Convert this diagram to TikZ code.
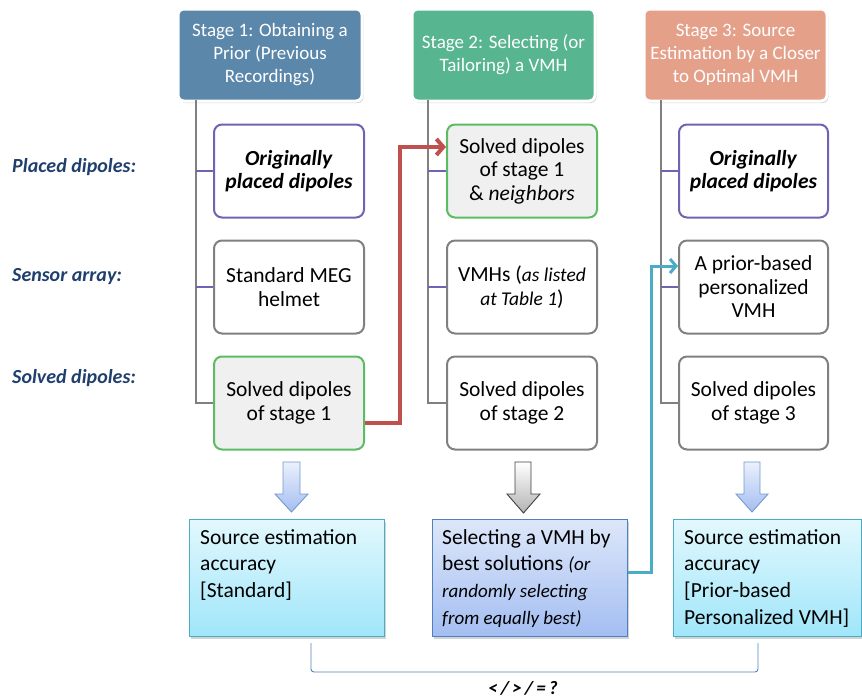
\documentclass[tikz,border=0pt]{standalone}
\usepackage{fontspec}
\setmainfont{Carlito}
\usetikzlibrary{shadows,arrows.meta}
\definecolor{hOne}{HTML}{5B87AB}
\definecolor{hTwo}{HTML}{57B590}
\definecolor{hThree}{HTML}{E5A08A}
\definecolor{purp}{HTML}{7163B4}
\definecolor{grn}{HTML}{5DBB63}
\definecolor{gryb}{HTML}{808080}
\definecolor{lbl}{HTML}{1F3F6E}
\definecolor{redc}{HTML}{C0504D}
\definecolor{teal}{HTML}{4BACC6}
\definecolor{blueb}{HTML}{4F81BD}
\definecolor{cyTop}{HTML}{E2F8FD}
\definecolor{cyBot}{HTML}{A0E6FA}
\definecolor{blTop}{HTML}{DDE7F9}
\definecolor{blBot}{HTML}{A4BEF2}
\tikzset{
  header/.style={draw=white, line width=3pt, rounded corners=6pt, text=white,
    minimum width=184pt, minimum height=92pt, align=center, inner sep=2pt,
    font=\fontsize{19}{23}\selectfont,
    drop shadow={opacity=0.35, shadow xshift=1.5pt, shadow yshift=-2pt}},
  child/.style={draw, line width=2pt, rounded corners=8pt, fill=white,
    minimum width=150pt, minimum height=93pt, align=center, inner sep=1pt,
    font=\fontsize{21.5}{23.5}\selectfont},
  pbox/.style={child, draw=purp},
  gbox/.style={child, draw=gryb},
  sbox/.style={child, draw=grn, fill=black!6},
  trunk/.style={draw=gryb, line width=2pt},
  stub/.style={draw=purp, line width=2pt},
  sidelbl/.style={anchor=west, text=lbl, inner sep=0pt,
    font=\fontsize{20}{22}\selectfont\bfseries\itshape},
  cybox/.style={draw=teal, line width=1pt, top color=cyTop, bottom color=cyBot,
    minimum width=195pt, minimum height=117pt,
    drop shadow={opacity=0.35, shadow xshift=2pt, shadow yshift=-2.5pt}},
  blbox/.style={cybox, draw=blueb, top color=blTop, bottom color=blBot},
  btext/.style={anchor=north west, align=left, inner sep=0pt,
    font=\fontsize{21.5}{26.7}\selectfont},
  bigarrow/.style={line width=0.9pt, draw=blueb!80, top color=blTop!60, bottom color=blBot},
  grayarrow/.style={line width=0.9pt, draw=black!75, top color=white, bottom color=black!30},
}
\begin{document}
\begin{tikzpicture}[x=1pt, y=-1pt]
\useasboundingbox (0,0) rectangle (862,699);

% headers
\node[header, fill=hOne] (h1) at (270,55) {Stage 1: Obtaining a\\Prior (Previous\\Recordings)};
\node[header, fill=hTwo, minimum width=183pt] (h2) at (503.5,55) {Stage 2: Selecting (or\\Tailoring) a VMH};
\node[header, fill=hThree, minimum width=183pt] (h3) at (735.5,55) {Stage 3: Source\\Estimation by a Closer\\to Optimal VMH};

% trunk coordinates
\coordinate (t1) at (196,100);
\coordinate (t2) at (428,100);
\coordinate (t3) at (661,100);

% child boxes
\node[pbox] (s11) at (289,171) {\textbf{\textit{Originally}}\\\textbf{\textit{placed dipoles}}};
\node[gbox] (s12) at (289,287) {Standard MEG\\helmet};
\node[sbox] (s13) at (289,403) {Solved dipoles\\of stage 1};

\node[sbox] (s21) at (522,171) {Solved dipoles\\of stage 1\\\& \textit{neighbors}};
\node[gbox] (s22) at (522,287) {VMHs ({\fontsize{19.5}{22}\selectfont\textit{as listed}}\\{\fontsize{19.5}{22}\selectfont\textit{at Table 1}})};
\node[gbox] (s23) at (522,403) {Solved dipoles\\of stage 2};

\node[pbox, minimum width=149pt] (s31) at (753.5,171) {\textbf{\textit{Originally}}\\\textbf{\textit{placed dipoles}}};
\node[gbox, minimum width=149pt] (s32) at (753.5,287) {A prior-based\\personalized\\VMH};
\node[gbox, minimum width=149pt] (s33) at (753.5,403) {Solved dipoles\\of stage 3};

% trunks
\draw[trunk] (t1) |- (s13.west);
\draw[trunk] (t2) |- (s23.west);
\draw[trunk] (t3) |- (s33.west);
\draw[stub] (t1 |- s11.west) -- (s11.west);
\draw[stub] (t1 |- s12.west) -- (s12.west);
\draw[stub] (t2 |- s21.west) -- (s21.west);
\draw[stub] (t2 |- s22.west) -- (s22.west);
\draw[stub] (t3 |- s31.west) -- (s31.west);
\draw[stub] (t3 |- s32.west) -- (s32.west);

% side labels
\node[sidelbl] (l1) at (12,167) {Placed dipoles:};
\node[sidelbl] (l2) at (12,277) {Sensor array:};
\node[sidelbl] (l3) at (12,378) {Solved dipoles:};

% block arrows
\path[bigarrow] (283,462) -- (300,462) -- (300,494) -- (308,494) -- (291.5,512) -- (275,494) -- (283,494) -- cycle;
\path[grayarrow] (515,462) -- (531,462) -- (531,494) -- (540,494) -- (523.5,513) -- (507,494) -- (515,494) -- cycle;
\path[bigarrow] (744,462) -- (760,462) -- (760,494) -- (768,494) -- (752,512) -- (736,494) -- (744,494) -- cycle;

% bottom boxes
\node[cybox] (b1) at (286.5,577.5) {};
\node[btext] (b1t) at (200,529) {Source estimation\\accuracy\\{[}Standard{]}};
\node[blbox] (b2) at (529.5,577.5) {};
\node[btext] (b2t) at (442,529) {Selecting a VMH by\\best solutions {\fontsize{19}{24}\selectfont\textit{(or}}\\{\fontsize{19}{24}\selectfont\textit{randomly selecting}}\\{\fontsize{19}{24}\selectfont\textit{from equally best)}}};
\node[cybox, minimum width=188pt] (b3) at (767,577.5) {};
\node[btext] (b3t) at (684,529) {Source estimation\\accuracy\\{[}Prior-based\\Personalized VMH{]}};

% red connector
\draw[draw=redc, line width=4pt, -{Straight Barb[length=7pt,width=16pt,line width=4pt]}]
  ([yshift=-20pt]s13.east) -- (400,423) |- ([yshift=24pt]s21.west);
% teal connector
\draw[draw=teal, line width=3pt, -{Straight Barb[length=6pt,width=14pt,line width=3pt]}]
  ([yshift=5pt]b2.east) -- (651,572.5) |- ([yshift=21pt]s32.west);

% bracket
\coordinate (k1) at (311,643);
\coordinate (k2) at (758,643);
\draw[draw=blueb, line width=0.9pt, rounded corners=3pt] (k1) -- (311,672) -- (758,672) -- (k2);
\node[inner sep=0pt, font=\fontsize{19}{22}\selectfont\bfseries\itshape] (q) at (523,688) {<\,/\,>\,/\,=\,?};
\end{tikzpicture}
\end{document}
